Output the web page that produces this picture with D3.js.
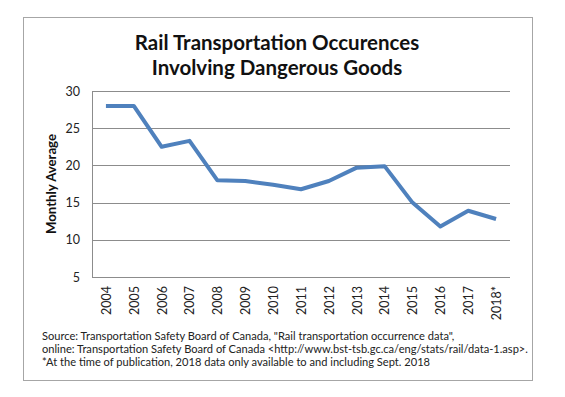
<!DOCTYPE html>
<html>
<head>
<meta charset="utf-8">
<script src="https://cdn.jsdelivr.net/npm/d3@7"></script>
<style>
  body { margin: 0; background: #fff; }
  svg { display: block; }
</style>
</head>
<body>
<div id="chart"></div>
<script>
// data
var years = ["2004", "2005", "2006", "2007", "2008", "2009", "2010", "2011",
             "2012", "2013", "2014", "2015", "2016", "2017", "2018*"];
var monthlyAvg = [28.0, 28.0, 22.5, 23.3, 18.0, 17.9, 17.4, 16.8,
                  17.9, 19.7, 19.9, 15.0, 11.8, 13.9, 12.8];
var yTicks = [5, 10, 15, 20, 25, 30];
var titleLines = ["Rail Transportation Occurences", "Involving Dangerous Goods"];
var sourceLines = [
  "Source: Transportation Safety Board of Canada, \"Rail transportation occurrence data\",",
  "online: Transportation Safety Board of Canada <http://www.bst-tsb.gc.ca/eng/stats/rail/data-1.asp>.",
  "*At the time of publication, 2018 data  only available to and including Sept. 2018"
];

var W = 565, H = 397;
var margin = {top: 91, right: 55, bottom: 120, left: 92},
    width = 510 - margin.left,
    height = 277 - margin.top;

var svg = d3.select("#chart").append("svg")
  .attr("width", W)
  .attr("height", H);

// outer chart frame
svg.append("rect")
  .attr("x", 23.5).attr("y", 17.5)
  .attr("width", 509).attr("height", 363)
  .attr("fill", "#fff")
  .attr("stroke", "#a6a6a6")
  .attr("stroke-width", 1);

var font = "Lato, 'Open Sans', sans-serif";

// title
svg.append("g").selectAll("text")
  .data(titleLines)
  .enter().append("text")
  .attr("x", 277)
  .attr("y", function(d, i) { return 50 + i * 25; })
  .attr("text-anchor", "middle")
  .style("font-family", font)
  .style("font-weight", "bold")
  .style("font-size", "20.5px")
  .style("fill", "#111")
  .text(function(d) { return d; });

var g = svg.append("g")
  .attr("transform", "translate(" + margin.left + "," + margin.top + ")");

var x = d3.scalePoint()
  .domain(years)
  .range([0, width])
  .padding(0.5);

var y = d3.scaleLinear()
  .domain([5, 30])
  .range([height, 0]);

// gridlines
g.append("g")
  .selectAll("line")
  .data(yTicks)
  .enter().append("line")
  .attr("x1", 0).attr("x2", width)
  .attr("y1", function(d) { return Math.round(y(d)) + 0.5; })
  .attr("y2", function(d) { return Math.round(y(d)) + 0.5; })
  .attr("stroke", "#8c8c8c")
  .attr("stroke-width", 1);

// y axis
var yAxis = d3.axisLeft(y).tickValues(yTicks).tickSize(0).tickPadding(12);
var ya = g.append("g").call(yAxis);
ya.select(".domain").attr("stroke", "#8c8c8c");
ya.selectAll("text")
  .style("font-family", font)
  .style("font-size", "12.5px")
  .style("fill", "#222");

// x axis labels
var xAxis = d3.axisBottom(x).tickSize(0).tickPadding(0);
var xa = g.append("g")
  .attr("transform", "translate(0," + height + ")")
  .call(xAxis);
xa.select(".domain").remove();
xa.selectAll("text")
  .attr("transform", "rotate(-90)")
  .attr("x", -9)
  .attr("y", 0)
  .attr("dy", "0.35em")
  .style("text-anchor", "end")
  .style("font-family", font)
  .style("font-size", "12.5px")
  .style("fill", "#222");

// y axis title
svg.append("text")
  .attr("transform", "translate(56," + (margin.top + height / 2) + ") rotate(-90)")
  .attr("text-anchor", "middle")
  .attr("textLength", 100)
  .attr("lengthAdjust", "spacingAndGlyphs")
  .style("font-family", font)
  .style("font-weight", "bold")
  .style("font-size", "13px")
  .style("fill", "#111")
  .text("Monthly Average");

// the line
var line = d3.line()
  .x(function(d, i) { return x(years[i]); })
  .y(function(d) { return y(d); });

g.append("path")
  .datum(monthlyAvg)
  .attr("d", line)
  .attr("fill", "none")
  .attr("stroke", "#4f81bd")
  .attr("stroke-width", 4)
  .attr("stroke-linejoin", "round");

// source notes
svg.append("g").selectAll("text")
  .data(sourceLines)
  .enter().append("text")
  .attr("x", 42)
  .attr("y", function(d, i) { return 339.5 + i * 13; })
  .style("font-family", font)
  .style("font-size", "11.1px")
  .style("fill", "#222")
  .text(function(d) { return d; });
</script>
</body>
</html>
